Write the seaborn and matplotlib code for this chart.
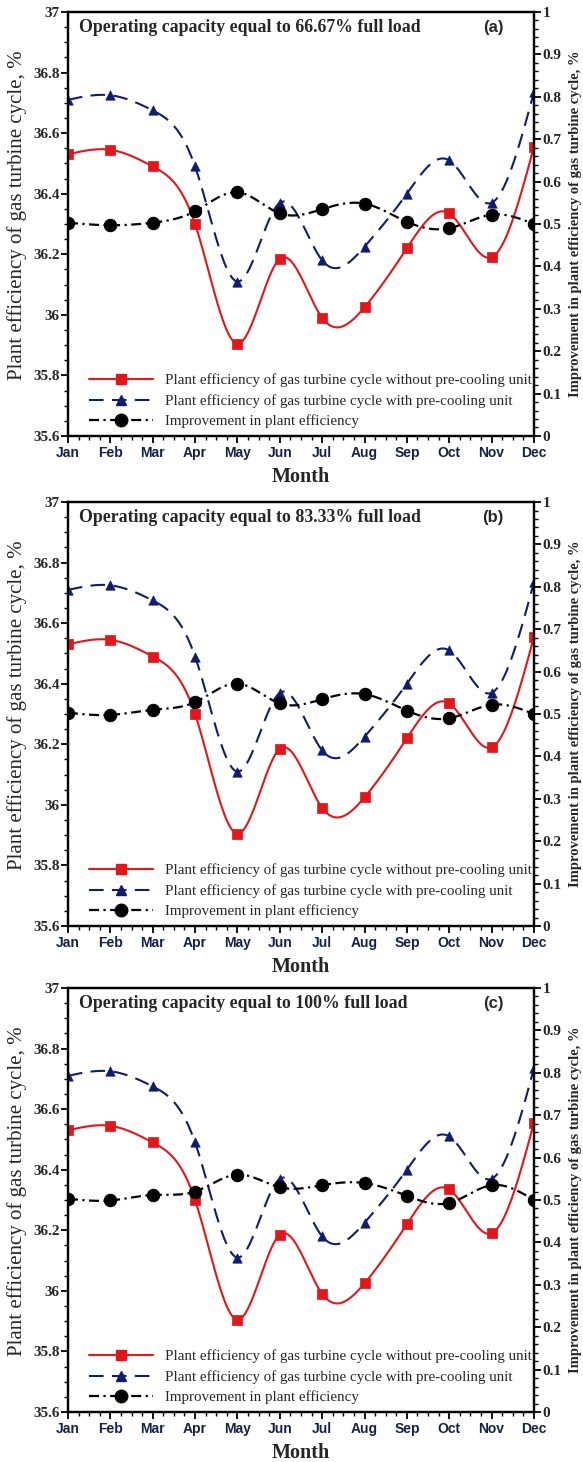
import numpy as np
import matplotlib
matplotlib.use("Agg")
import matplotlib.pyplot as plt
from matplotlib.lines import Line2D
from matplotlib.ticker import MultipleLocator, FormatStrFormatter
import seaborn as sns

sns.set_theme(style="ticks")
plt.rcParams['font.family'] = ['Liberation Serif', 'DejaVu Serif']

# data
months = ['Jan', 'Feb', 'Mar', 'Apr', 'May', 'Jun', 'Jul', 'Aug', 'Sep', 'Oct', 'Nov', 'Dec']
eff_without = [36.53, 36.545, 36.49, 36.30, 35.905, 36.185, 35.99, 36.025, 36.22, 36.335, 36.19, 36.555]
eff_with = [36.71, 36.725, 36.675, 36.49, 36.11, 36.37, 36.18, 36.225, 36.40, 36.51, 36.37, 36.735]
improve_a = [0.503, 0.497, 0.503, 0.53, 0.575, 0.525, 0.535, 0.548, 0.505, 0.49, 0.522, 0.50]
improve_b = [0.503, 0.498, 0.51, 0.528, 0.572, 0.525, 0.535, 0.547, 0.508, 0.49, 0.522, 0.50]
improve_c = [0.503, 0.499, 0.512, 0.52, 0.56, 0.53, 0.535, 0.54, 0.51, 0.493, 0.535, 0.50]
loads = ['66.67%', '83.33%', '100%']
tags = ['(a)', '(b)', '(c)']

RED = '#e3161b'
BLUE = '#101c6e'
NAVY = '#16204c'


def smooth(y, n=25):
    # natural cubic spline through the points (line drawing only)
    y = np.asarray(y, dtype=float)
    k = len(y)
    A = np.zeros((k, k))
    b = np.zeros(k)
    A[0, 0] = A[-1, -1] = 1
    for i in range(1, k - 1):
        A[i, i - 1], A[i, i], A[i, i + 1] = 1, 4, 1
        b[i] = 6 * (y[i + 1] - 2 * y[i] + y[i - 1])
    M = np.linalg.solve(A, b)
    xs, ys = [], []
    for i in range(k - 1):
        t = np.linspace(0, 1, n, endpoint=(i == k - 2))
        yy = ((1 - t) * y[i] + t * y[i + 1]
              + ((1 - t) ** 3 - (1 - t)) * M[i] / 6 + (t ** 3 - t) * M[i + 1] / 6)
        xs.append(i + t)
        ys.append(yy)
    return np.concatenate(xs), np.concatenate(ys)


fig = plt.figure(figsize=(5.83, 14.62), dpi=100)
bottoms = [0.7018, 0.3666, 0.0342]
x = np.arange(len(months))

for improve, load, tag, bot in zip([improve_a, improve_b, improve_c], loads, tags, bottoms):
    ax = fig.add_axes([0.1166, bot, 0.7993, 0.29])
    ax2 = ax.twinx()

    xs, ys = smooth(eff_without)
    sns.lineplot(x=xs, y=ys, ax=ax, color=RED, lw=1.5, sort=False, estimator=None)
    sns.scatterplot(x=x, y=eff_without, ax=ax, color=RED, marker='s', s=42, edgecolor=RED, zorder=5)

    xs, ys = smooth(eff_with)
    sns.lineplot(x=xs, y=ys, ax=ax, color=BLUE, lw=1.5, sort=False, estimator=None,
                 linestyle=(0, (7, 4)))
    sns.scatterplot(x=x, y=eff_with, ax=ax, color=BLUE, marker='^', s=45, edgecolor=BLUE, zorder=5)

    xs, ys = smooth(improve)
    sns.lineplot(x=xs, y=ys, ax=ax2, color='black', lw=1.6, sort=False, estimator=None,
                 linestyle=(0, (4.5, 2, 1, 2)))
    sns.scatterplot(x=x, y=improve, ax=ax2, color='black', marker='o', s=80, edgecolor='black', zorder=5)

    ax.set_xlim(0, 11)
    ax.set_ylim(35.6, 37)
    ax2.set_ylim(0, 1)
    ax.set_xticks(x)
    ax.set_xticklabels(months, fontfamily='Liberation Sans', fontweight='bold', fontsize=10, color=NAVY)
    ax.xaxis.set_minor_locator(MultipleLocator(0.25))
    ax.yaxis.set_major_locator(MultipleLocator(0.2))
    ax.yaxis.set_minor_locator(MultipleLocator(0.05))
    ax.yaxis.set_major_formatter(FormatStrFormatter('%g'))
    ax2.yaxis.set_major_locator(MultipleLocator(0.1))
    ax2.yaxis.set_minor_locator(MultipleLocator(0.02))
    ax2.yaxis.set_major_formatter(FormatStrFormatter('%g'))

    for a in (ax, ax2):
        for s in a.spines.values():
            s.set_linewidth(1.6)
            s.set_color('black')
        a.tick_params(which='major', direction='out', length=5, width=1.3, pad=1, color='black')
        a.tick_params(which='minor', direction='out', length=3, width=1, color='black')
    ax.tick_params(axis='y', labelsize=11)
    ax2.tick_params(axis='y', labelsize=11)
    for lab in ax.get_yticklabels() + ax2.get_yticklabels():
        lab.set_fontweight('bold')
    ax.tick_params(axis='x', pad=2)

    ax.set_xlabel('Month', fontsize=14.5, fontweight='bold')
    ax.xaxis.set_label_coords(0.5, -0.074)
    ax.set_ylabel('Plant efficiency of gas turbine cycle, %', fontsize=15)
    ax.yaxis.set_label_coords(-0.088, 0.52)
    ax2.set_ylabel('Improvement in plant efficiency of gas turbine cycle, %', fontsize=10.5,
                   fontweight='bold')
    ax2.yaxis.set_label_coords(1.075, 0.5)

    ax.text(0.024, 0.963, 'Operating capacity equal to %s full load' % load, transform=ax.transAxes,
            fontsize=12.8, fontweight='bold', va='center', ha='left')
    ax.text(0.912, 0.963, tag, transform=ax.transAxes, fontfamily='Liberation Sans',
            fontsize=12, fontweight='bold', va='center', ha='center')

    handles = [
        Line2D([], [], color=RED, lw=1.5, marker='s', ms=6.5),
        Line2D([], [], color=BLUE, lw=1.5, ls=(0, (7, 4)), marker='^', ms=6.5),
        Line2D([], [], color='black', lw=1.6, ls=(0, (4.5, 2, 1, 2)), marker='o', ms=9),
    ]
    labels = ['Plant efficiency of gas turbine cycle without pre-cooling unit',
              'Plant efficiency of gas turbine cycle with pre-cooling unit',
              'Improvement in plant efficiency']
    ax2.legend(handles, labels, loc='lower left', bbox_to_anchor=(0.045, 0.018), frameon=False,
               fontsize=10.8, handlelength=4.3, handletextpad=0.8, labelspacing=0.45,
               borderpad=0, borderaxespad=0)

fig.savefig('out.png', dpi=100)
